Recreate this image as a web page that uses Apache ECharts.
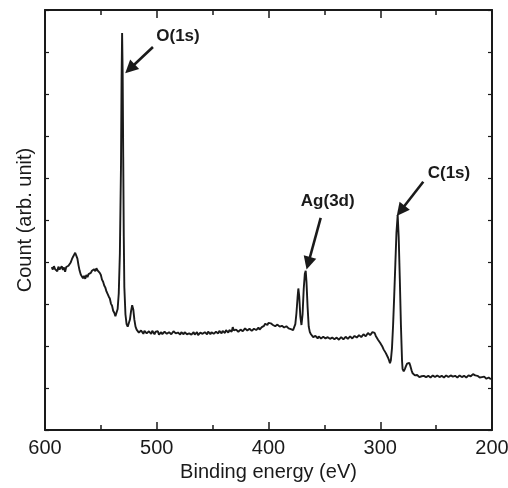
<!DOCTYPE html>
<html>
<head>
<meta charset="utf-8">
<script src="https://cdn.jsdelivr.net/npm/echarts@6/dist/echarts.min.js"></script>
<style>
  html, body { margin: 0; padding: 0; background: #fff; }
  #chart { width: 508px; height: 488px; }
</style>
</head>
<body>
<div id="chart"></div>
<script>
// binding energy (eV), count (arb. unit)
const survey = [
  [594,3.88],[593,3.82],[592,3.90],[591,3.83],[590,3.87],[589,3.78],[588,3.89],[587,3.82],[586,3.79],[585,3.90],
  [584,3.81],[583,3.87],[582,3.77],[581,3.88],[580,3.84],[579,3.91],[578,3.93],[577,3.99],[576,4.06],[575,4.12],
  [574,4.17],[573,4.22],[572,4.19],[571,4.08],[570,3.92],[569,3.79],[568,3.70],[567,3.66],[566,3.61],[565,3.67],
  [564,3.60],[563,3.69],[562,3.64],[561,3.71],[560,3.70],[559,3.74],[558,3.79],[557,3.75],[556,3.83],[555,3.78],
  [554,3.85],[553,3.80],[552,3.83],[551,3.74],[550,3.69],[549,3.58],[548,3.53],[547,3.44],[546,3.39],[545,3.30],
  [544,3.27],[543,3.18],[542,3.13],[541,3.01],[540,2.96],[539,2.84],[538,2.79],[537,2.71],[536,2.75],[535,2.88],
  [534,3.25],[533,4.2],[532,6.3],[531.5,8.3],[531,9.45],[530.5,8.5],[530,6.5],[529.5,4.6],[529,3.4],[528,2.75],
  [527,2.52],[526,2.46],[525.5,2.44],[525,2.49],[524,2.63],[523,2.83],[522,2.97],[521,2.87],[520,2.62],[519,2.46],
  [518,2.39],[517,2.35],
  [516,2.32],[515,2.28],[514,2.37],[513,2.33],[512,2.29],[511,2.36],[510,2.34],[509,2.30],[508,2.27],[507,2.35],
  [506,2.33],[505,2.29],[504,2.36],[503,2.32],[502,2.28],[501,2.34],[500,2.31],[499,2.35],[498,2.27],[497,2.31],
  [496,2.33],[495,2.28],[494,2.30],[493,2.34],[492,2.35],[491,2.29],[490,2.27],[489,2.33],[488,2.32],[487,2.28],
  [486,2.29],[485,2.35],[484,2.34],[483,2.30],[482,2.26],[481,2.32],[480,2.31],[479,2.27],[478,2.33],[477,2.30],
  [476,2.28],[475,2.33],[474,2.31],[473,2.28],[472,2.26],[471,2.30],[470,2.32],[469,2.27],[468,2.29],[467,2.33],
  [466,2.27],[465,2.31],[464,2.33],[463,2.26],[462,2.28],[461,2.32],[460,2.30],[459,2.29],[458,2.26],[457,2.33],
  [456,2.31],[455,2.28],[454,2.34],[453,2.31],[452,2.28],[451,2.33],[450,2.32],[449,2.29],[448,2.27],[447,2.34],
  [446,2.33],[445,2.30],[444,2.36],[443,2.33],[442,2.30],[441,2.36],[440,2.34],[439,2.31],[438,2.38],[437,2.34],
  [436,2.32],[435,2.38],[434,2.37],[433,2.34],[432,2.45],[431,2.37],[430,2.35],[429,2.39],[428,2.38],[427,2.34],
  [426,2.34],[425,2.39],[424,2.40],[423,2.35],[422,2.36],[421,2.42],[420,2.41],[419,2.37],[418,2.37],[417,2.41],
  [416,2.39],[415,2.36],[414,2.35],[413,2.41],[412,2.40],[411,2.38],[410,2.42],[409,2.44],[408,2.39],[407,2.43],
  [406,2.45],[405,2.47],[404,2.48],[403,2.53],[402,2.52],[401,2.50],[400,2.55],[399,2.59],[398,2.54],[397,2.56],
  [396,2.50],[395,2.52],[394,2.47],[393,2.49],[392,2.51],[391,2.47],[390,2.46],[389,2.50],[388,2.48],[387,2.45],
  [386,2.44],[385,2.48],[384,2.47],[383,2.43],[382,2.42],[381,2.44],[380,2.40],[379,2.41],[378,2.38],
  [377,2.42],[376,2.52],[375,2.78],[374,3.15],[373.3,3.37],[372.5,3.18],[371.5,2.70],[370.5,2.50],[369.5,2.76],
  [368.5,3.35],[367.5,3.72],[366.7,3.79],[366,3.52],[365,2.92],[364,2.46],[363,2.33],[362,2.28],[361,2.24],[360,2.21],
  [359,2.19],[358,2.24],[357,2.21],[356,2.18],[355,2.23],[354,2.22],[353,2.18],[352,2.17],[351,2.22],[350,2.21],
  [349,2.18],[348,2.16],[347,2.21],[346,2.20],[345,2.17],[344,2.15],[343,2.20],[342,2.19],[341,2.16],[340,2.14],
  [339,2.20],[338,2.19],[337,2.15],[336,2.16],[335,2.21],[334,2.20],[333,2.16],[332,2.17],[331,2.22],[330,2.21],
  [329,2.17],[328,2.18],[327,2.23],[326,2.22],[325,2.18],[324,2.19],[323,2.24],[322,2.24],[321,2.20],[320,2.20],
  [319,2.26],[318,2.25],[317,2.21],[316,2.22],[315,2.28],[314,2.27],[313,2.23],[312,2.25],[311,2.31],[310,2.30],
  [309,2.26],[308,2.28],[307,2.33],[306,2.34],[305,2.31],[304,2.24],[303,2.20],[302,2.15],[301,2.11],
  [300,2.07],[299,2.03],[298,1.98],[297,1.92],[296,1.88],[295,1.83],[294,1.79],[293,1.72],[292,1.65],[291.3,1.59],
  [290.5,1.66],[289.5,1.95],[288.5,2.5],[287.5,3.2],[286.5,3.95],[285.5,4.7],[284.4,5.12],[283.5,4.6],[282.5,3.6],[281.5,2.5],
  [280.5,1.65],[280,1.45],[279,1.40],[278,1.45],[277,1.52],[276,1.58],[275,1.61],[274,1.60],[273,1.52],[272,1.42],
  [271,1.35],[270,1.32],[269,1.30],[268,1.29],[267,1.31],[266,1.27],[265,1.26],[264,1.30],[263,1.28],[262,1.26],
  [261,1.29],[260,1.29],[259,1.26],[258,1.25],[257,1.29],[256,1.28],[255,1.25],[254,1.26],[253,1.30],[252,1.30],
  [251,1.26],[250,1.27],[249,1.30],[248,1.29],[247,1.26],[246,1.25],[245,1.29],[244,1.28],[243,1.25],[242,1.26],
  [241,1.30],[240,1.29],[239,1.26],[238,1.27],[237,1.30],[236,1.30],[235,1.27],[234,1.26],[233,1.29],[232,1.28],
  [231,1.25],[230,1.27],[229,1.30],[228,1.29],[227,1.26],[226,1.26],[225,1.29],[224,1.28],[223,1.25],[222,1.27],
  [221,1.30],[220,1.29],[219,1.28],[218,1.30],[217,1.33],[216,1.32],[215,1.30],[214,1.31],[213,1.29],[212,1.28],
  [211,1.25],[210,1.27],[209,1.26],[208,1.24],[207,1.27],[206,1.26],[205,1.22],[204,1.23],[203,1.25],[202,1.24],
  [201,1.21]
];

// peak labels: text position, arrow start, arrow tip (eV, count)
const peakNames = ['O(1s)', 'Ag(3d)', 'C(1s)'];
const labelAt = [[481, 9.38], [347, 5.44], [238.5, 6.1]];
const arrowFrom = [[503.4, 9.12], [353.3, 5.05], [261.5, 5.91]];
const arrowTo = [[524, 8.6], [364.4, 3.97], [281.7, 5.22]];

const xTicks = { min: 200, max: 600, interval: 100 };
const yRange = { min: 0, max: 10, interval: 1 };

const font = '"Liberation Sans", Arial, Helvetica, sans-serif';
const ink = '#1a1a1a';

const chart = echarts.init(document.getElementById('chart'), null, { renderer: 'canvas' });

const xAxisBase = {
  type: 'value',
  min: xTicks.min,
  max: xTicks.max,
  interval: xTicks.interval,
  inverse: true,
  axisLine: { show: true, onZero: false, lineStyle: { color: ink, width: 2 } },
  axisTick: { show: true, inside: true, length: 8, lineStyle: { color: ink, width: 1.5 } },
  minorTick: { show: true, splitNumber: 2, length: 5, lineStyle: { color: ink, width: 1.5 } },
  splitLine: { show: false },
  minorSplitLine: { show: false }
};

const yAxisBase = {
  type: 'value',
  min: yRange.min,
  max: yRange.max,
  interval: yRange.interval,
  axisLine: { show: true, onZero: false, lineStyle: { color: ink, width: 2 } },
  axisTick: { show: true, inside: true, length: 4, lineStyle: { color: ink, width: 1.2 } },
  axisLabel: { show: false },
  splitLine: { show: false }
};

const option = {
  animation: false,
  backgroundColor: '#fff',
  grid: { left: 45, right: 16, top: 10, bottom: 58, outerBoundsMode: 'none', containLabel: false },
  xAxis: [
    Object.assign({}, xAxisBase, {
      position: 'bottom',
      name: 'Binding energy (eV)',
      nameLocation: 'middle',
      nameGap: 28,
      nameTextStyle: { fontFamily: font, fontSize: 20, color: ink },
      axisLabel: { show: true, margin: 8, fontFamily: font, fontSize: 20, color: ink }
    }),
    Object.assign({}, xAxisBase, {
      position: 'top',
      axisLabel: { show: false }
    })
  ],
  yAxis: [
    Object.assign({}, yAxisBase, {
      position: 'left',
      name: 'Count (arb. unit)',
      nameLocation: 'middle',
      nameGap: 10,
      nameTextStyle: { fontFamily: font, fontSize: 20, color: ink }
    }),
    Object.assign({}, yAxisBase, { position: 'right' })
  ],
  series: [
    {
      name: 'survey',
      type: 'line',
      xAxisIndex: 0,
      yAxisIndex: 0,
      data: survey,
      showSymbol: false,
      symbol: 'none',
      lineStyle: { color: ink, width: 1.9 },
      markLine: {
        silent: true,
        symbol: ['none', 'path://M4,0 L8,12 L0,12 Z'],
        symbolSize: 13,
        label: { show: false },
        lineStyle: { color: ink, width: 2.6, type: 'solid' },
        data: arrowFrom.map((from, i) => [{ coord: from }, { coord: arrowTo[i] }])
      },
      markPoint: {
        silent: true,
        symbol: 'circle',
        symbolSize: 1,
        itemStyle: { color: 'rgba(0,0,0,0)' },
        label: {
          show: true,
          position: 'inside',
          formatter: '{b}',
          fontFamily: font,
          fontSize: 17,
          fontWeight: 'bold',
          color: ink
        },
        data: peakNames.map((name, i) => ({ name: name, coord: labelAt[i] }))
      }
    }
  ]
};

chart.setOption(option);
</script>
</body>
</html>
